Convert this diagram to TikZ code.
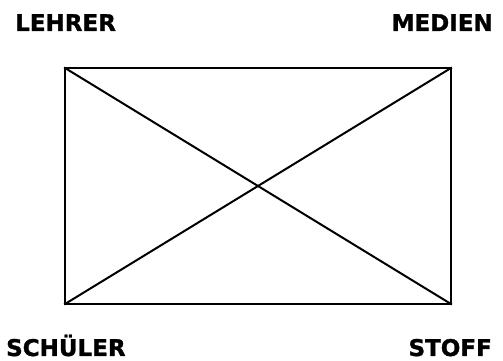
\documentclass[tikz,border=0pt]{standalone}
\usepackage{fontspec}
\setmainfont[BoldFeatures={FakeBold=1.2}]{DejaVu Sans}
\begin{document}
\begin{tikzpicture}[x=1pt,y=1pt,
  lbl/.style={inner sep=0pt, font=\bfseries\fontsize{23}{26}\selectfont},
  edge/.style={line width=2.2pt, line cap=rect}]
\useasboundingbox (0,0) rectangle (503,361);
\coordinate (tl) at (65,293);
\coordinate (tr) at (451,293);
\coordinate (bl) at (65,57);
\coordinate (br) at (451,57);
\draw[edge, line join=miter] (tl) -- (tr) -- (br) -- (bl) -- cycle;
\draw[edge, line width=2pt] (tl) -- (br);
\draw[edge, line width=2pt] (bl) -- (tr);
\node[lbl, anchor=base west] (lehrer) at (15,330) {LEHRER};
\node[lbl, anchor=base east] (medien) at (493,330) {MEDIEN};
\node[lbl, anchor=base west] (schueler) at (6,5) {SCHÜLER};
\node[lbl, anchor=base east] (stoff) at (492,5) {STOFF};
\end{tikzpicture}
\end{document}
